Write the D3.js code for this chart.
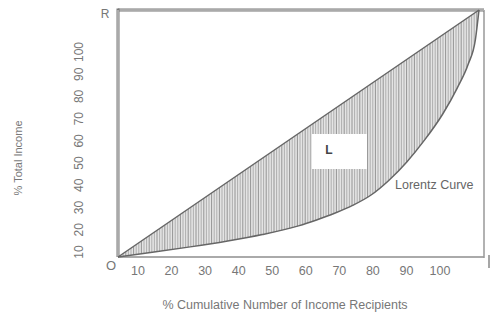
<!DOCTYPE html>
<html><head><meta charset="utf-8">
<script src="https://cdn.jsdelivr.net/npm/d3@7"></script>
<style>body{margin:0;background:#fff}svg{display:block}text{font-family:"Liberation Sans",Arial,sans-serif}</style>
</head><body>
<svg id="c" width="490" height="315"></svg>
<script>
// Data
const xTickLabels = [10, 20, 30, 40, 50, 60, 70, 80, 90, 100];
const yTickLabels = [10, 20, 30, 40, 50, 60, 70, 80, 90, 100];
const lorenzX = [0, 10, 20, 30, 40, 50, 55, 60, 65, 70, 75, 80, 85, 90, 94, 97, 99, 100];
const lorenzY = [0, 2.0, 4.1, 6.4, 9.1, 12.6, 15.0, 17.7, 20.9, 25.0, 31.0, 38.5, 47.5, 58.0, 68.5, 78, 88, 100];
const equalityX = [0, 100];
const equalityY = [0, 100];
const xTitle = "% Cumulative Number of Income Recipients";
const yTitle = "% Total Income";
const curveLabel = "Lorentz Curve";
const areaLabel = "L";

const svg = d3.select("#c");
const px = d3.scaleLinear([0, 100], [118, 479]);
const py = d3.scaleLinear([0, 100], [257, 10]);
const xt = d3.scaleLinear([10, 100], [138, 440]);
const yt = d3.scaleLinear([10, 100], [252, 52]);

const lorenz = lorenzX.map((x, i) => [x, lorenzY[i]]);
const equality = equalityX.map((x, i) => [x, equalityY[i]]);
const line = d3.line().x(d => px(d[0])).y(d => py(d[1])).curve(d3.curveMonotoneX);
const straight = d3.line().x(d => px(d[0])).y(d => py(d[1]));

const defs = svg.append("defs");
defs.append("clipPath").attr("id", "reg").append("path")
  .attr("d", straight(equality) + line(lorenz.slice().reverse()).replace(/^M/, "L") + "Z");

const g = svg.append("g").attr("clip-path", "url(#reg)");
g.append("rect").attr("x", px(0)).attr("y", py(100)).attr("width", px(100) - px(0)).attr("height", py(0) - py(100)).attr("fill", "#e4e4e4");
g.selectAll("line.h").data(d3.range(px(0), px(100), 2.6)).join("line")
  .attr("x1", d => d).attr("x2", d => d).attr("y1", py(100)).attr("y2", py(0))
  .attr("stroke", (d, i) => i % 3 === 0 ? "#8a8a8a" : "#a8a8a8").attr("stroke-width", 0.9);

// box
const bx0 = px(0), bx1 = 484, by0 = py(100), by1 = py(0);
svg.append("line").attr("x1", bx0).attr("x2", bx1).attr("y1", by1).attr("y2", by1).attr("stroke", "#aaa").attr("stroke-width", 2);
svg.append("line").attr("x1", bx1).attr("x2", bx1).attr("y1", by0).attr("y2", by1 + 1).attr("stroke", "#999").attr("stroke-width", 1.5);
svg.append("line").attr("x1", bx0).attr("x2", bx1).attr("y1", by0).attr("y2", by0).attr("stroke", "#777").attr("stroke-width", 3);
svg.append("line").attr("x1", bx0).attr("x2", bx1).attr("y1", by0).attr("y2", by0).attr("stroke", "#ddd").attr("stroke-width", 1);
svg.append("line").attr("x1", bx0).attr("x2", bx0).attr("y1", by0 - 1.5).attr("y2", by1).attr("stroke", "#777").attr("stroke-width", 3);
svg.append("line").attr("x1", bx0).attr("x2", bx0).attr("y1", by0).attr("y2", by1).attr("stroke", "#ddd").attr("stroke-width", 1);
svg.append("line").attr("x1", 489).attr("x2", 489).attr("y1", by1 - 2).attr("y2", by1 + 11).attr("stroke", "#888").attr("stroke-width", 1.5);

// lines
svg.append("path").attr("d", straight(equality)).attr("fill", "none").attr("stroke", "#666").attr("stroke-width", 1.5);
svg.append("path").attr("d", line(lorenz)).attr("fill", "none").attr("stroke", "#666").attr("stroke-width", 1.5);

// L box
svg.append("rect").attr("x", 312).attr("y", 134).attr("width", 55).attr("height", 35).attr("fill", "#fff");
svg.append("text").attr("x", 329).attr("y", 154).attr("font-size", 12).attr("font-weight", "bold").attr("fill", "#444").attr("text-anchor", "middle").text(areaLabel);

svg.append("text").attr("x", 395).attr("y", 189).attr("font-size", 12.5).attr("fill", "#666").text(curveLabel);

// tick labels
svg.selectAll("text.xt").data(xTickLabels).join("text").attr("class", "xt")
  .attr("x", d => xt(d)).attr("y", 275).attr("text-anchor", "middle").attr("font-size", 12.5).attr("fill", "#777").text(d => d);
svg.selectAll("text.yt").data(yTickLabels).join("text").attr("class", "yt")
  .attr("transform", d => `translate(83,${yt(d)}) rotate(-90)`).attr("text-anchor", "middle").attr("font-size", 12).attr("fill", "#777").text(d => d);

svg.append("text").attr("x", 111).attr("y", 270).attr("text-anchor", "middle").attr("font-size", 13).attr("fill", "#777").text("O");
svg.append("text").attr("x", 105).attr("y", 18).attr("text-anchor", "middle").attr("font-size", 12).attr("fill", "#777").text("R");

svg.append("text").attr("x", 285).attr("y", 309).attr("text-anchor", "middle").attr("font-size", 12.5).attr("fill", "#777").text(xTitle);
svg.append("text").attr("transform", "translate(22,158) rotate(-90)").attr("text-anchor", "middle").attr("font-size", 11).attr("fill", "#777").text(yTitle);
</script>
</body></html>
